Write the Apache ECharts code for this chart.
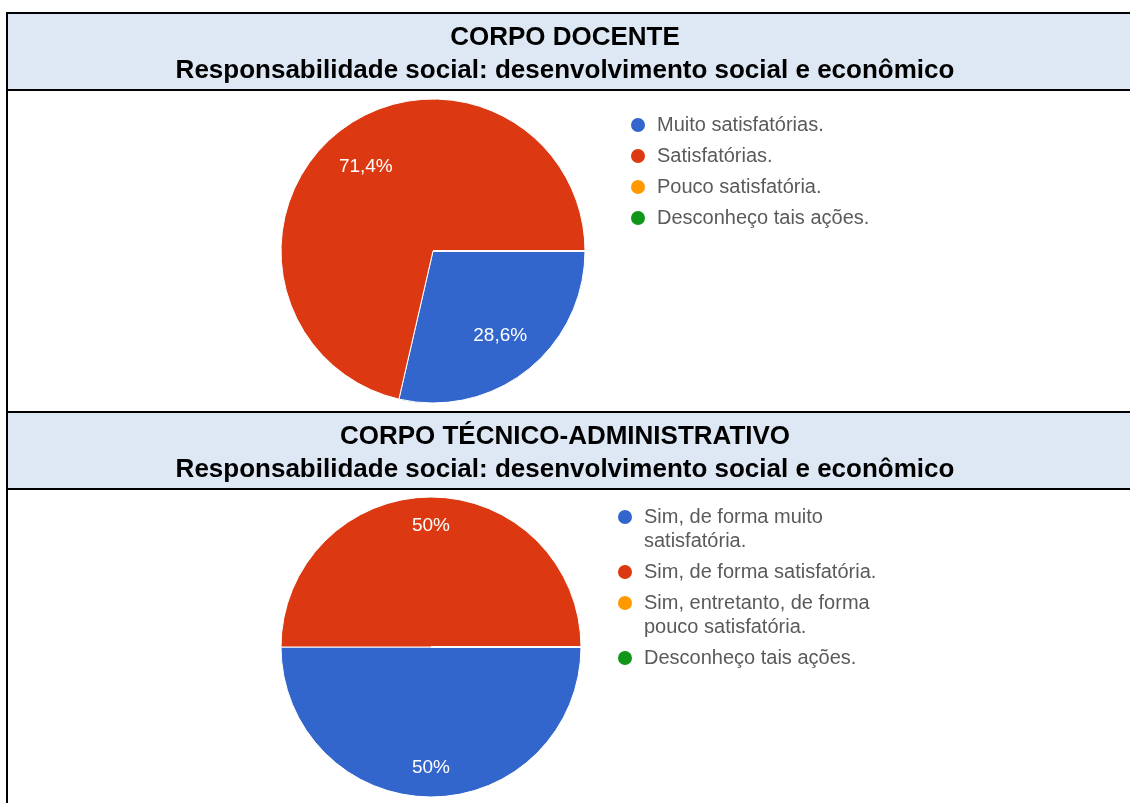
<!DOCTYPE html>
<html>
<head>
<meta charset="utf-8">
<script src="https://cdn.jsdelivr.net/npm/echarts@6/dist/echarts.min.js"></script>
<style>
html,body{margin:0;padding:0;background:#fff;}
#chart{width:1130px;height:803px;}
</style>
</head>
<body>
<div id="chart"></div>
<script>
// ---- data ----
const titles1 = ['CORPO DOCENTE', 'Responsabilidade social: desenvolvimento social e econômico'];
const titles2 = ['CORPO TÉCNICO-ADMINISTRATIVO', 'Responsabilidade social: desenvolvimento social e econômico'];
const categories1 = ['Muito satisfatórias.', 'Satisfatórias.', 'Pouco satisfatória.', 'Desconheço tais ações.'];
const values1 = [28.6, 71.4, 0, 0];
const categories2 = ['Sim, de forma muito satisfatória.', 'Sim, de forma satisfatória.', 'Sim, entretanto, de forma pouco satisfatória.', 'Desconheço tais ações.'];
const legendText2 = ['Sim, de forma muito\nsatisfatória.', 'Sim, de forma satisfatória.', 'Sim, entretanto, de forma\npouco satisfatória.', 'Desconheço tais ações.'];
const values2 = [50, 50, 0, 0];
const colors = ['#3366cc', '#dc3912', '#ff9900', '#109618'];

// ---- layout ----
const L = 7, R = 1131;
const H1top = 13, H1bot = 90, H2top = 412, H2bot = 489;
const pie1 = {cx: 433, cy: 251, r: 152, labelR: 0.38};
const pie2 = {cx: 431, cy: 647, r: 150, labelR: 0.57};
const MK = 16;           // legend marker size
const LF = 20, LH = 24;  // legend font size / line height
const legend1 = {x: 637, rows: [125, 156, 187, 218]};
const legend2 = {x: 624, rows: [517, 572, 603, 658]};
const TF = 26;

function fmt(v) {
  if (!v) return '';
  return String(v).replace('.', ',') + '%';
}

function pieSeries(data, cats, p) {
  const d = cats.map((c, i) => ({name: c, value: data[i], itemStyle: {color: colors[i]}}));
  return [{
    type: 'pie',
    center: [p.cx, p.cy],
    radius: [0, p.r],
    startAngle: 0,
    clockwise: true,
    avoidLabelOverlap: false,
    label: {show: false},
    labelLine: {show: false},
    itemStyle: {borderColor: '#ffffff', borderWidth: 1},
    emphasis: {disabled: true},
    animation: false,
    data: d
  }, {
    type: 'pie',
    center: [p.cx, p.cy],
    radius: [p.r * p.labelR, p.r],
    startAngle: 0,
    clockwise: true,
    silent: true,
    avoidLabelOverlap: false,
    itemStyle: {color: 'rgba(0,0,0,0)', borderWidth: 0},
    label: {
      show: true, position: 'inside', color: '#ffffff',
      fontFamily: 'Arial, "Liberation Sans", sans-serif', fontSize: 19,
      formatter: (prm) => fmt(prm.value)
    },
    labelLine: {show: false},
    emphasis: {disabled: true},
    animation: false,
    data: cats.map((c, i) => ({name: c, value: data[i]}))
  }];
}

function legends(cats, texts, lg) {
  return cats.map((c, i) => {
    const twoLine = texts[i].indexOf('\n') >= 0;
    return {
      orient: 'vertical',
      left: lg.x - MK / 2,
      top: lg.rows[i] - (twoLine ? 1.5 * LH : 0.5 * LH),
      padding: 0,
      icon: 'circle',
      itemWidth: MK,
      itemHeight: MK,
      selectedMode: false,
      data: [c],
      formatter: () => (twoLine ? '\n' : '') + texts[i],
      textStyle: {
        color: '#5a5a5a', fontSize: LF, lineHeight: LH,
        fontFamily: 'Arial, "Liberation Sans", sans-serif',
        padding: [0, 0, 0, 6]
      }
    };
  });
}

const lineStyle = {stroke: '#000000', lineWidth: 2};
const graphics = [
  {type: 'rect', shape: {x: L, y: H1top, width: R - L, height: H1bot - H1top}, style: {fill: '#dde8f4'}, z: -10},
  {type: 'rect', shape: {x: L, y: H2top, width: R - L, height: H2bot - H2top}, style: {fill: '#dde8f4'}, z: -10},
  {type: 'line', shape: {x1: L - 1, y1: H1top, x2: R, y2: H1top}, style: lineStyle},
  {type: 'line', shape: {x1: L - 1, y1: H1bot, x2: R, y2: H1bot}, style: lineStyle},
  {type: 'line', shape: {x1: L - 1, y1: H2top, x2: R, y2: H2top}, style: lineStyle},
  {type: 'line', shape: {x1: L - 1, y1: H2bot, x2: R, y2: H2bot}, style: lineStyle},
  {type: 'line', shape: {x1: L, y1: H1top, x2: L, y2: 803}, style: lineStyle}
];

const titleFont = {fontFamily: 'Arial, "Liberation Sans", sans-serif', fontWeight: 'bold', fontSize: TF, lineHeight: TF, color: '#000000'};
const chart = echarts.init(document.getElementById('chart'), null, {renderer: 'canvas'});
chart.setOption({
  animation: false,
  backgroundColor: '#ffffff',
  title: [
    {text: titles1[0], left: 'center', top: H1top + 25 - TF / 2, padding: 0, textStyle: titleFont},
    {text: titles1[1], left: 'center', top: H1top + 58 - TF / 2, padding: 0, textStyle: titleFont},
    {text: titles2[0], left: 'center', top: H2top + 25 - TF / 2, padding: 0, textStyle: titleFont},
    {text: titles2[1], left: 'center', top: H2top + 58 - TF / 2, padding: 0, textStyle: titleFont}
  ],
  legend: legends(categories1, categories1, legend1).concat(legends(categories2, legendText2, legend2)),
  graphic: graphics,
  series: pieSeries(values1, categories1, pie1).concat(pieSeries(values2, categories2, pie2))
});
</script>
</body>
</html>
